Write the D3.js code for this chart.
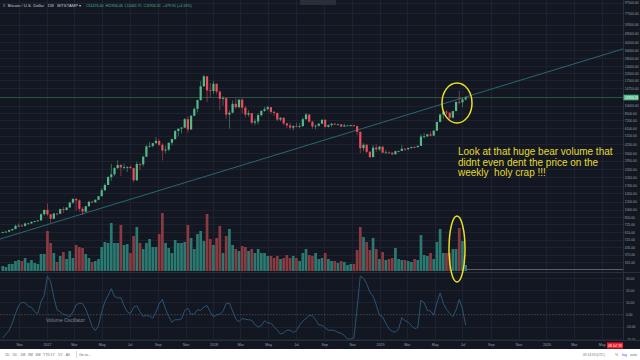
<!DOCTYPE html>
<html><head><meta charset="utf-8">
<script src="https://cdn.jsdelivr.net/npm/d3@7/dist/d3.min.js"></script>
<style>
html,body{margin:0;padding:0;background:#131722;}
svg{display:block;font-family:"Liberation Sans",Arial,sans-serif;}
text{white-space:pre;}
</style></head>
<body>
<svg id="chart" width="640" height="360"></svg>
<script>
// ---------- DATA ----------
const firstWeek = "2016-09-26";           // weekly candles, Monday start
// [open, high, low, close] per week
const ohlc = [
[602,614,594,612],[612,620,605,617],[617,642,612,638],[638,660,625,653],[653,720,650,700],
[700,740,680,704],[704,725,695,700],[700,755,690,737],[737,750,725,740],[740,772,730,765],
[765,780,755,778],[778,795,765,790],[790,930,790,905],[905,1000,880,998],[998,1150,870,905],
[905,910,750,820],[820,930,810,920],[920,925,880,915],[915,1025,910,1015],[1015,1065,930,996],
[996,1060,990,1050],[1050,1200,1045,1170],[1170,1290,1140,1270],[1270,1300,980,1230],[1230,1255,960,1020],
[1020,1060,890,960],[960,1090,950,1080],[1080,1210,1075,1195],[1195,1225,1165,1180],[1180,1260,1170,1245],
[1245,1355,1235,1350],[1350,1620,1345,1540],[1540,1790,1510,1730],[1730,2100,1730,2060],[2060,2760,1900,2190],
[2190,2560,2100,2510],[2510,2980,2470,2690],[2690,2760,2100,2550],[2550,2780,2450,2570],[2570,2620,2300,2580],
[2580,2650,2480,2510],[2510,2540,1830,1920],[1920,2900,1880,2750],[2750,2820,2400,2730],[2730,3300,2600,3230],
[3230,4200,3200,4060],[4060,4480,3950,4100],[4100,4380,3980,4360],[4360,4980,4300,4580],[4580,4750,4100,4200],
[4200,4350,2970,3700],[3700,4100,3500,3780],[3780,4400,3650,4400],[4400,4800,4150,4770],[4770,5850,4700,5700],
[5700,6000,5100,6000],[6000,6200,5400,6150],[6150,7600,6100,7400],[7400,7900,5500,5900],[5900,8100,5850,8000],
[8000,9600,7900,9300],[9300,11400,8600,11300],[11300,17200,11100,15300],[15300,19666,15100,19100],[19100,19200,10800,14000],
[14000,16500,12000,13800],[13800,17200,12900,16200],[16200,16300,12800,13600],[13600,14000,9000,11600],[11600,12300,10000,11800],
[11800,11900,7500,8200],[8200,9000,6000,8550],[8550,11200,8400,10400],[10400,11700,9300,9650],[9650,11500,9400,11400],
[11400,11700,8400,9550],[9550,9900,7700,8200],[8200,9000,7800,8450],[8450,8500,6600,6850],[6850,7500,6450,7050],
[7050,8450,6600,8100],[8100,9050,7850,8900],[8900,9750,8700,9250],[9250,9950,8950,9650],[9650,9700,8350,8700],
[8700,8890,7950,8500],[8500,8550,7050,7350],[7350,7750,7050,7630],[7630,7750,6500,6750],[6750,6830,6100,6450],
[6450,6850,5900,6150],[6150,6500,5780,6350],[6350,6850,6200,6330],[6330,6800,6050,6350],[6350,7700,6250,7400],
[7400,8500,7350,8200],[8200,8300,6900,7000],[7000,7150,6000,6300],[6300,6600,5900,6400],[6400,6800,6250,6700],
[6700,7400,6650,7300],[7300,7400,6150,6250],[6250,6600,6150,6500],[6500,6800,6250,6700],[6700,6800,6500,6600],
[6600,6700,6500,6600],[6600,6650,6200,6300],[6300,6700,6250,6450],[6450,6500,6400,6450],[6450,6550,6250,6480],
[6480,6550,6300,6350],[6350,6400,5200,5600],[5600,5650,3500,3900],[3900,4350,3650,4200],[4200,4300,3500,3600],
[3600,3650,3150,3200],[3200,4200,3200,3950],[3950,4250,3600,3800],[3800,4100,3650,4030],[4030,4100,3500,3530],
[3530,3750,3480,3550],[3550,3650,3450,3530],[3530,3550,3330,3410],[3410,3700,3380,3650],[3650,3700,3550,3670],
[3670,4200,3650,3850],[3850,3900,3650,3820],[3820,3950,3700,3920],[3920,4050,3850,4000],[4000,4100,3900,3990],
[3990,4150,3950,4100],[4100,5300,4100,5050],[5050,5450,4850,5070],[5070,5350,5000,5300],[5300,5650,5100,5150],
[5150,5800,5100,5750],[5750,7000,5700,6970],[6970,8350,6900,8200],[8200,8950,7500,8750],[8750,9100,8100,8550],
[8550,8650,7450,7650],[7650,8950,7550,8850],[8850,10900,8850,10850],[10850,13880,10300,10750],[10750,12000,9650,11450],
[11450,12100,11200,11956]
];
// weekly volume (thousand BTC)
const volumes = [
25,20,35,35,50,55,50,65,40,55,40,35,85,85,200,140,90,45,75,95,
60,100,65,130,120,115,85,65,45,50,60,120,145,140,240,140,140,230,130,135,
90,175,220,140,110,140,160,120,120,185,290,140,115,90,155,140,140,145,230,165,
110,185,200,150,285,160,130,165,225,90,175,210,130,110,100,125,120,100,110,90,
110,90,90,75,75,65,75,60,65,80,65,75,65,50,90,110,80,75,90,60,
65,90,60,50,50,40,50,45,30,35,35,105,220,170,145,105,165,110,60,95,
55,60,65,115,60,55,55,50,45,60,55,180,80,75,90,60,145,210,90,90,
90,110,110,215,150,30
];
// Volume Oscillator values
const volOsc = [
-18.9,-16,-12.8,-6.8,1,7.6,10.1,9.8,6.8,6,2.5,0.7,10.8,15.8,31.5,27,14.3,4,2.3,0.3,
-0.4,-1.8,2.5,8,9.5,9,4.6,-2.1,-9.8,-13,-9,2.3,10.6,15.7,21.3,15.1,13.7,14,7.3,2.4,
0.9,6.1,7.4,2.3,-1.3,-0.6,-1.2,-2.8,2.2,8.7,12.5,4.5,-1.5,-6.2,-4.1,-4.1,-3.4,3.5,5.3,0.4,
0.6,4,3.5,6.3,7.4,2.3,-1.9,-0.1,0.3,2.9,9.3,9.5,3.1,-3.6,-5.7,-3.1,-3.8,-4.1,-4.5,-8.1,
-10,-8.9,-5,-6.8,-6.9,-9.9,-12.6,-15.8,-14.8,-12.7,-12.7,-14.5,-13,-8.6,-5.2,-3.1,-0.7,-0.8,-4.2,-8.4,
-8.6,-10.9,-12.7,-12.7,-13,-14.5,-15.2,-17,-19.9,-19.9,-19,5.3,31.7,29.8,25.4,18.4,15.2,8,-0.5,-1.9,
-7,-11.6,-13.8,-14.1,-11.6,-2.5,-4.8,-6.2,-8.8,-11.4,-10.5,12,9.7,3.5,3,-0.4,9.7,17.8,9.3,4.2,
1.2,-1.6,4,12.4,4.8,-8.6
];
const monthTickDates = ["2016-11-01","2017-01-01","2017-03-01","2017-05-01","2017-07-01","2017-09-01","2017-11-01",
  "2018-01-01","2018-03-01","2018-05-01","2018-07-01","2018-09-01","2018-11-01","2019-01-01","2019-03-01",
  "2019-05-01","2019-07-01","2019-09-01","2019-11-01","2020-01-01","2020-03-01","2020-05-01"];
const monthTickLabels = ["Nov","2017","Mar","May","Jul","Sep","Nov","2018","Mar","May","Jul","Sep","Nov","2019",
  "Mar","May","Jul","Sep","Nov","2020","Mar","May"];
const priceTicks = [97500,77500,59500,49000,40500,34000,28500,24000,20500,17500,14750,10000,8500,7200,6100,5150,
  4250,3500,2950,2450,2050,1700,1450,1200,1000,850,725,610,515,435,370,315];
const oscTicks = [30,20,10,0,-10,-20];
const trendAnchors = [["2016-09-20",523],["2020-03-15",26200]];
const levelLine = {from:"2019-07-08", price:268};
const lastPrice = 11956.31;
const legendValues = "O11476.40  H11956.46  L11062.75  C11956.31  +479.91 (+4.18%)";
const rangeButtons = ["1D","5D","1M","3M","6M","YTD","1Y","5Y","All"];
const noteLines = ["Look at that huge bear volume that","didnt even dent the price on the","weekly  holy crap !!!"];

// ---------- LAYOUT ----------
const W = 640, H = 360, plotW = 623;
const pricePane = {top:0, bottom:272};
const oscPane = {top:273, bottom:340};
const timeAxisY = 340, toolbarY = 349;
const UP = "#53b987", DOWN = "#eb4d5c";
const VUP = "#2a7a72", VDOWN = "#8a3b41";
const GRID = "#1e2230";
const AXIS_TXT = "#9aa0ab";

const svg = d3.select("#chart");
svg.append("rect").attr("width",W).attr("height",H).attr("fill","#131722");

const t0 = new Date(firstWeek+"T00:00:00Z");
const weeks = ohlc.map((d,i)=>({date:new Date(t0.getTime()+i*7*864e5),o:d[0],h:d[1],l:d[2],c:d[3],v:volumes[i],osc:volOsc[i]}));

const x = d3.scaleUtc().domain([new Date("2016-09-20T00:00:00Z"), new Date("2020-06-17T00:00:00Z")]).range([0,plotW]);
const y = d3.scaleLog().domain([252.6,103200]).range([pricePane.bottom,pricePane.top]);
const yv = d3.scaleLinear().domain([0,340]).range([271,203]);
const yo = d3.scaleLinear().domain([-20.7,34.1]).range([oscPane.bottom,oscPane.top]);

const defs = svg.append("defs");
defs.append("clipPath").attr("id","cp").append("rect").attr("x",0).attr("y",0).attr("width",plotW).attr("height",pricePane.bottom);
defs.append("clipPath").attr("id","co").append("rect").attr("x",0).attr("y",oscPane.top).attr("width",plotW).attr("height",oscPane.bottom-oscPane.top);

// grid
const grid = svg.append("g");
const tickDates = monthTickDates.map(s=>new Date(s+"T00:00:00Z"));
grid.selectAll("line.v").data(tickDates).join("line")
  .attr("x1",d=>Math.round(x(d))+0.5).attr("x2",d=>Math.round(x(d))+0.5)
  .attr("y1",0).attr("y2",oscPane.bottom).attr("stroke",GRID).attr("stroke-width",1);
grid.selectAll("line.h").data(priceTicks).join("line")
  .attr("x1",0).attr("x2",plotW).attr("y1",d=>Math.round(y(d))+0.5).attr("y2",d=>Math.round(y(d))+0.5)
  .attr("stroke",GRID);
grid.selectAll("line.ho").data(oscTicks.filter(d=>d!==0)).join("line")
  .attr("x1",0).attr("x2",plotW).attr("y1",d=>Math.round(yo(d))+0.5).attr("y2",d=>Math.round(yo(d))+0.5)
  .attr("stroke",GRID);

// volume
const pg = svg.append("g").attr("clip-path","url(#cp)");
pg.selectAll("rect.vol").data(weeks).join("rect")
  .attr("x",d=>x(d.date)-1.35).attr("width",2.7)
  .attr("y",d=>yv(d.v)).attr("height",d=>yv(0)-yv(d.v))
  .attr("fill",d=>d.c>=d.o?VUP:VDOWN);

// trend line
const a = trendAnchors.map(p=>[x(new Date(p[0]+"T00:00:00Z")), y(p[1])]);
const slope = (a[1][1]-a[0][1])/(a[1][0]-a[0][0]);
pg.append("line").attr("x1",0).attr("y1",a[0][1]+slope*(0-a[0][0]))
  .attr("x2",plotW).attr("y2",a[0][1]+slope*(plotW-a[0][0]))
  .attr("stroke","#2a6670").attr("stroke-width",1);

// horizontal ray at low level
pg.append("line").attr("x1",x(new Date(levelLine.from+"T00:00:00Z"))).attr("x2",plotW)
  .attr("y1",Math.round(y(levelLine.price))+0.5).attr("y2",Math.round(y(levelLine.price))+0.5)
  .attr("stroke","#5b5f6b").attr("stroke-width",1);

// last price line
pg.append("line").attr("x1",0).attr("x2",plotW).attr("y1",y(lastPrice)).attr("y2",y(lastPrice))
  .attr("stroke","#2c5246").attr("stroke-width",1);

// candles
const cg = pg.append("g");
cg.selectAll("line.w").data(weeks).join("line")
  .attr("x1",d=>x(d.date)).attr("x2",d=>x(d.date)).attr("y1",d=>y(d.h)).attr("y2",d=>y(d.l))
  .attr("stroke",d=>d.c>=d.o?UP:DOWN).attr("stroke-width",0.7).attr("opacity",0.75);
cg.selectAll("rect.b").data(weeks).join("rect")
  .attr("x",d=>x(d.date)-1.1).attr("width",2.2)
  .attr("y",d=>y(Math.max(d.o,d.c))).attr("height",d=>Math.max(0.8,Math.abs(y(d.o)-y(d.c))))
  .attr("fill",d=>d.c>=d.o?UP:DOWN);

// pane separator
svg.append("line").attr("x1",0).attr("x2",W).attr("y1",272.5).attr("y2",272.5).attr("stroke","#2a2e39");

// oscillator
const og = svg.append("g").attr("clip-path","url(#co)");
og.append("line").attr("x1",0).attr("x2",plotW).attr("y1",yo(0)).attr("y2",yo(0))
  .attr("stroke","#4c525e").attr("stroke-dasharray","1.5,1.5").attr("stroke-width",0.8);
og.append("path").datum(weeks)
  .attr("d",d3.line().x(d=>x(d.date)).y(d=>yo(d.osc)))
  .attr("fill","none").attr("stroke","#2b5473").attr("stroke-width",1);
svg.append("text").attr("x",46).attr("y",322).attr("font-size",5).attr("fill","#7f8797").text("Volume Oscillator");

// right axis
svg.append("line").attr("x1",plotW+0.5).attr("x2",plotW+0.5).attr("y1",0).attr("y2",toolbarY).attr("stroke","#2a2e39");
const ax = svg.append("g").attr("transform",`translate(${plotW+1},0)`)
  .call(d3.axisRight(y).tickValues(priceTicks).tickFormat(d=>d.toFixed(2)).tickSize(0).tickPadding(0.8));
ax.select(".domain").remove();
ax.selectAll("text").attr("font-size",3.3).attr("fill",AXIS_TXT).attr("font-family","Liberation Sans, Arial");
const axo = svg.append("g").attr("transform",`translate(${plotW+1},0)`)
  .call(d3.axisRight(yo).tickValues(oscTicks).tickFormat(d=>d.toFixed(2)).tickSize(0).tickPadding(2));
axo.select(".domain").remove();
axo.selectAll("text").attr("font-size",3.3).attr("fill",AXIS_TXT).attr("font-family","Liberation Sans, Arial");

// last price label
svg.append("rect").attr("x",plotW+0.5).attr("y",y(lastPrice)-2.8).attr("width",15).attr("height",5.6).attr("fill","#53b987");
svg.append("text").attr("x",plotW+1.8).attr("y",y(lastPrice)+1.2).attr("font-size",3.3).attr("fill","#ffffff").text(lastPrice.toFixed(2));

// time axis
svg.append("rect").attr("x",0).attr("y",timeAxisY).attr("width",W).attr("height",toolbarY-timeAxisY).attr("fill","#131722");
svg.append("line").attr("x1",0).attr("x2",W).attr("y1",timeAxisY+0.5).attr("y2",timeAxisY+0.5).attr("stroke","#2a2e39");
const xa = svg.append("g").attr("transform",`translate(0,${timeAxisY})`)
  .call(d3.axisBottom(x).tickValues(tickDates).tickFormat((d,i)=>monthTickLabels[i]).tickSize(0).tickPadding(3.2));
xa.select(".domain").remove();
xa.selectAll("text").attr("font-size",3.6).attr("fill",AXIS_TXT).attr("font-family","Liberation Sans, Arial");
svg.append("rect").attr("x",607).attr("y",342.5).attr("width",16).attr("height",6).attr("fill","#f0202e");
svg.append("text").attr("x",615).attr("y",346.8).attr("text-anchor","middle").attr("font-size",3.2).attr("fill","#fff").text("08 Jul '19");

// bottom toolbar
svg.append("rect").attr("x",0).attr("y",toolbarY).attr("width",W).attr("height",H-toolbarY).attr("fill","#ffffff");
const tb = svg.append("g").attr("font-size",3.6).attr("fill","#6a707c");
tb.selectAll("text.rb").data(rangeButtons).join("text")
  .attr("x",(d,i)=>5+i*7.6).attr("y",356).text(d=>d);
svg.append("line").attr("x1",76.5).attr("x2",76.5).attr("y1",351).attr("y2",358).attr("stroke","#d5d7dc");
tb.append("text").attr("x",79).attr("y",356).text("Go to...");
tb.append("text").attr("x",583).attr("y",356).attr("font-size",3.2).text("09:14:33 (UTC)");
tb.append("text").attr("x",615).attr("y",356).text("%");
tb.append("text").attr("x",622).attr("y",356).attr("fill","#2962ff").text("log");
tb.append("text").attr("x",630).attr("y",356).text("auto");

// top legend
svg.append("text").attr("x",3).attr("y",7).attr("font-size",4.2).attr("fill","#c9ccd3")
  .text("\u2261  Bitcoin / U.S. Dollar   1W   BITSTAMP \u25BE");
svg.append("text").attr("x",86).attr("y",7).attr("font-size",3.6).attr("fill","#53b987").text(legendValues);
svg.append("rect").attr("x",300).attr("y",-1).attr("width",36).attr("height",6).attr("rx",1).attr("fill","#2a2e39");

// annotations
svg.append("ellipse").attr("cx",457).attr("cy",103).attr("rx",15).attr("ry",20)
  .attr("fill","none").attr("stroke","#efe21f").attr("stroke-width",1.5);
svg.append("ellipse").attr("cx",457).attr("cy",249).attr("rx",8).attr("ry",33)
  .attr("fill","none").attr("stroke","#efe21f").attr("stroke-width",1.5);
svg.append("g").selectAll("text").data(noteLines).join("text")
  .attr("x",458).attr("y",(d,i)=>155+i*10.5).attr("font-size",10).attr("fill","#e4da2a").text(d=>d);
</script>
</body></html>
